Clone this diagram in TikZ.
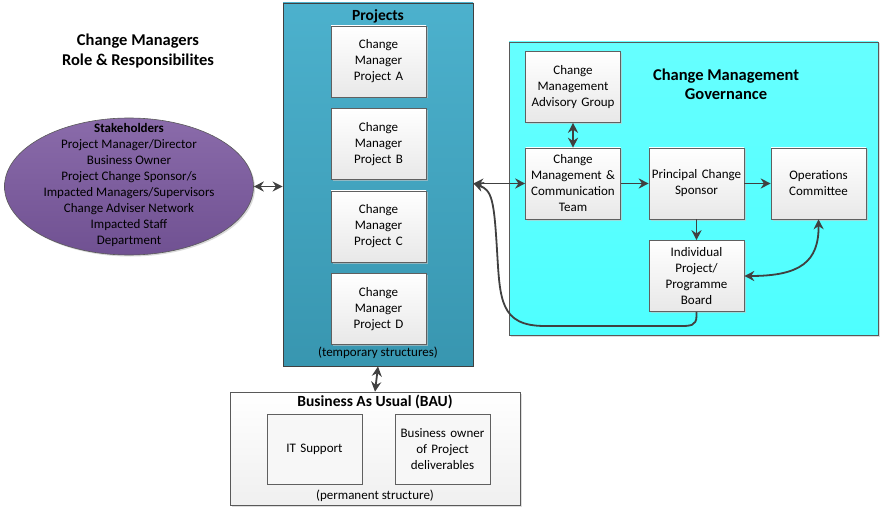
\documentclass[tikz,border=0pt]{standalone}
\usepackage{fontspec}
\setmainfont{Carlito}
\usetikzlibrary{shapes.geometric,shadows,arrows.meta}
\definecolor{edgegray}{HTML}{404040}
\definecolor{teallight}{HTML}{4CB1CD}
\definecolor{tealdark}{HTML}{3896B0}
\definecolor{cyanlight}{HTML}{66FFFF}
\definecolor{cyandark}{HTML}{4EFFFF}
\definecolor{purplelight}{HTML}{8A6BAA}
\definecolor{purpledark}{HTML}{705192}
\tikzset{
  txt/.style={font=\fontsize{13}{16}\selectfont, align=center},
  whitebox/.style={draw=gray!75!black, line width=0.6pt, top color=white, bottom color=gray!18,
    minimum width=95pt, minimum height=71pt, inner sep=1pt, text width=93pt, txt,
    drop shadow={shadow xshift=1.5pt, shadow yshift=-1.5pt, fill=gray!45, opacity=0.6}},
  plainbox/.style={draw=gray!75!black, line width=0.6pt, fill=gray!6,
    minimum width=95pt, minimum height=70pt, inner sep=1pt, text width=93pt, txt},
  arr/.style={draw=edgegray, line width=1.8pt, -{Stealth[length=10pt,width=10pt]}},
  darr/.style={draw=edgegray, line width=1.8pt, {Stealth[length=10pt,width=10pt]}-{Stealth[length=10pt,width=10pt]}},
}
\begin{document}
\begin{tikzpicture}[x=1pt,y=-1pt]
\useasboundingbox (0,0) rectangle (883,513);

% title
\node[font=\fontsize{16.5}{20}\selectfont\bfseries, align=center] (title) at (138,51) {Change Managers\\Role \& Responsibilites};

% stakeholders ellipse
\node[ellipse, draw=gray!70!black, line width=0.6pt, top color=purplelight, bottom color=purpledark,
  minimum width=249pt, minimum height=137pt, inner sep=0pt,
  drop shadow={shadow xshift=1.5pt, shadow yshift=-1.5pt, fill=gray!50, opacity=0.6}] (stake) at (129,186.5) {};
\node[txt] (staketext) at (129,185) {\textbf{Stakeholders}\\Project Manager/Director\\Business Owner\\Project Change Sponsor/s\\Impacted Managers/Supervisors\\Change Adviser Network\\Impacted Staff\\Department};

% projects container
\node[draw=gray!50!black, line width=0.8pt, top color=teallight, bottom color=tealdark,
  minimum width=190pt, minimum height=363pt, inner sep=0pt] (projects) at (378,184.5) {};
\node[font=\fontsize{15.5}{18}\selectfont\bfseries] (projtitle) at (378,16) {Projects};
\node[whitebox] (pa) at (378.5,61.5) {Change\\Manager\\Project A};
\node[whitebox] (pb) at (378.5,144) {Change\\Manager\\Project B};
\node[whitebox] (pc) at (378.5,226.5) {Change\\Manager\\Project C};
\node[whitebox] (pd) at (378.5,309) {Change\\Manager\\Project D};
\node[txt] (temp) at (378,353) {(temporary structures)};

% BAU container
\node[draw=gray!70!black, line width=0.6pt, top color=white, bottom color=gray!12,
  minimum width=290pt, minimum height=113pt, inner sep=0pt,
  drop shadow={shadow xshift=1.5pt, shadow yshift=-1.5pt, fill=gray!45, opacity=0.6}] (bau) at (375,448.5) {};
\node[font=\fontsize{15.5}{18}\selectfont\bfseries] (bautitle) at (375,402) {Business As Usual (BAU)};
\node[plainbox] (it) at (314.5,449) {IT Support};
\node[plainbox] (bo) at (442.5,449) {Business owner\\of Project\\deliverables};
\node[txt] (perm) at (375,496) {(permanent structure)};

% governance container
\node[draw=gray!70!black, line width=0.6pt, top color=cyanlight, bottom color=cyandark,
  minimum width=369pt, minimum height=293pt, inner sep=0pt,
  drop shadow={shadow xshift=1.5pt, shadow yshift=-1.5pt, fill=gray!45, opacity=0.6}] (gov) at (693.5,188.5) {};
\node[font=\fontsize{16.5}{19.5}\selectfont\bfseries, align=center] (govtitle) at (726,84.5) {Change Management\\Governance};
\node[whitebox] (adv) at (573,87) {Change\\Management\\Advisory Group};
\node[whitebox] (team) at (573,183.5) {Change\\Management \&\\Communication\\Team};
\node[whitebox] (sponsor) at (696.5,183.5) {Principal Change\\Sponsor\\[16pt]};
\node[whitebox] (ops) at (818.5,183.5) {Operations\\Committee\\[8pt]};
\node[whitebox] (board) at (696.5,276) {Individual\\Project/\\Programme\\Board};

% connectors
\draw[darr] (stake.east) -- (projects.west |- stake.east);
\draw[darr] (projects.south) -- (bau.north);
\draw[darr] (projects.east |- team.west) -- (team.west);
\draw[darr] (adv.south) -- (team.north);
\draw[arr] (team.east) -- (sponsor.west);
\draw[arr] (sponsor.east) -- (ops.west);
\draw[arr] (sponsor.south) -- (board.north);
\draw[darr] (board.east) .. controls (800,276) and (819,262) .. (ops.south);
\draw[arr] (board.south) -- (696.5,316) .. controls (696.5,326) and (690,326) .. (680,326)
  -- (545,326) .. controls (500,326) and (500,300) .. (497,250)
  .. controls (494,200) and (492,190) .. (projects.east |- team.west);
\end{tikzpicture}
\end{document}
